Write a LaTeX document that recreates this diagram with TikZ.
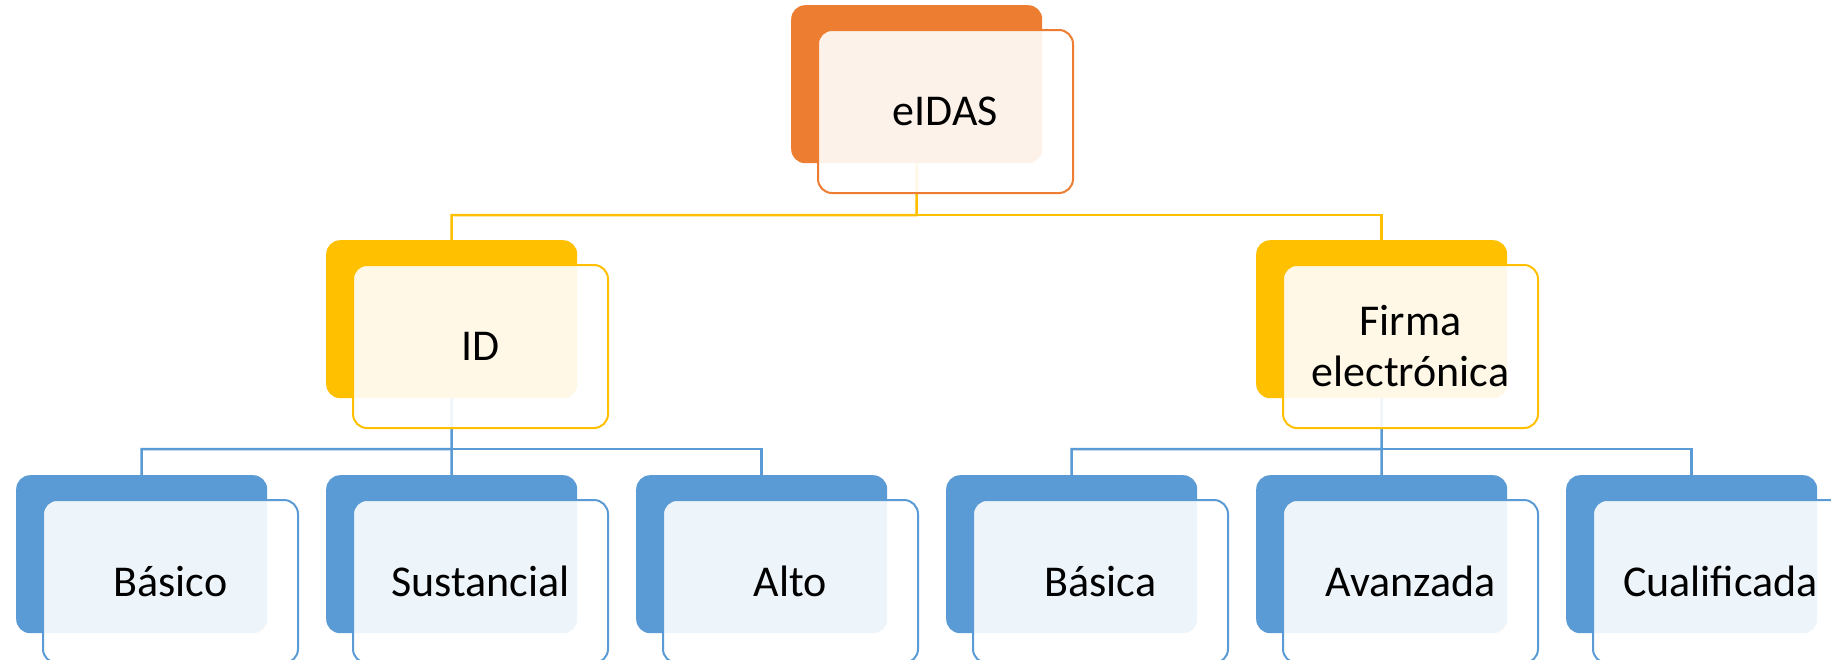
\documentclass[tikz,border=0pt]{standalone}
\usepackage{fontspec}
\setmainfont{Carlito}
\definecolor{cor}{HTML}{ED7D31}
\definecolor{cye}{HTML}{FFC000}
\definecolor{cbl}{HTML}{5B9BD5}
\begin{document}
\begin{tikzpicture}[x=1pt,y=-1pt,
  backbox/.style={fill=#1,draw=none,rounded corners=14pt,minimum width=251pt,minimum height=158pt,inner sep=0pt,anchor=north west},
  frontbox/.style={draw=#1,line width=2pt,fill=white,fill opacity=0.9,text opacity=1,rounded corners=14pt,minimum width=255pt,minimum height=163pt,inner sep=0pt,anchor=north west,align=center,font=\fontsize{44}{51}\selectfont},
  conn/.style={draw=#1,line width=2.5pt}]
\useasboundingbox (0,0) rectangle (1831,659);
\fill[white] (0,0) rectangle (1831,659);
% back boxes
\node[backbox=cor] (root) at (791,5) {};
\node[backbox=cye] (id) at (326,240) {};
\node[backbox=cye] (fe) at (1256,240) {};
\node[backbox=cbl] (b1) at (16,475) {};
\node[backbox=cbl] (b2) at (326,475) {};
\node[backbox=cbl] (b3) at (636,475) {};
\node[backbox=cbl] (c1) at (946,475) {};
\node[backbox=cbl] (c2) at (1256,475) {};
\node[backbox=cbl] (c3) at (1566,475) {};
% connectors
\coordinate (bar1) at (916.5,215);
\coordinate (bar2) at (451.5,449);
\coordinate (bar3) at (1381.5,449);
\draw[conn=cye] (root.south) -- (bar1) -| (id.north);
\draw[conn=cye] (bar1) -| (fe.north);
\draw[conn=cbl] (id.south) -- (bar2) -| (b1.north);
\draw[conn=cbl] (bar2) -| (b3.north);
\draw[conn=cbl] (bar2) -- (b2.north);
\draw[conn=cbl] (fe.south) -- (bar3) -| (c1.north);
\draw[conn=cbl] (bar3) -| (c3.north);
\draw[conn=cbl] (bar3) -- (c2.north);
% front boxes
\node[frontbox=cor] (rootf) at (817,29) {eIDAS};
\node[frontbox=cye] (idf) at (352,264) {ID};
\node[frontbox=cye] (fef) at (1282,264) {Firma\\electrónica};
\node[frontbox=cbl] (b1f) at (42,499) {Básico};
\node[frontbox=cbl] (b2f) at (352,499) {Sustancial};
\node[frontbox=cbl] (b3f) at (662,499) {Alto};
\node[frontbox=cbl] (c1f) at (972,499) {Básica};
\node[frontbox=cbl] (c2f) at (1282,499) {Avanzada};
\node[frontbox=cbl] (c3f) at (1592,499) {Cualificada};
\end{tikzpicture}
\end{document}
